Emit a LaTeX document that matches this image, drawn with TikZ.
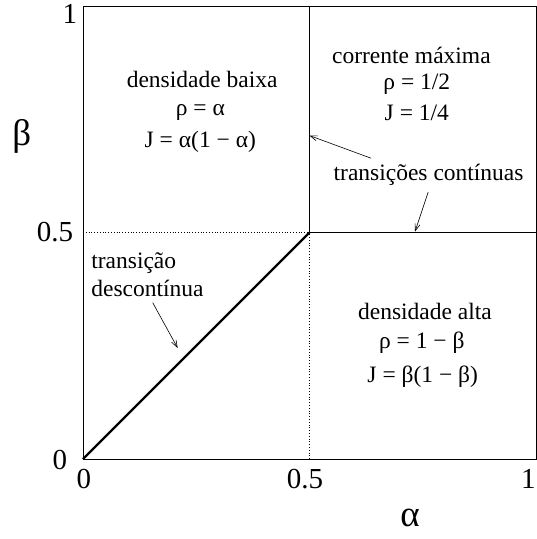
\documentclass[tikz,border=0pt]{standalone}
\usepackage{fontspec}
\setmainfont{Liberation Serif}
\usetikzlibrary{arrows.meta}
\begin{document}
\begin{tikzpicture}[x=453pt,y=453pt,
  region/.style={font=\fontsize{23.5}{28}\selectfont, inner sep=0pt, align=center},
  ticklbl/.style={font=\fontsize{29}{33}\selectfont, inner sep=0pt},
  axislbl/.style={font=\fontsize{37}{40}\selectfont, inner sep=0pt},
  thinline/.style={line width=0.8pt},
  dotline/.style={line width=0.8pt, dotted},
  pointer/.style={line width=0.6pt, -{Straight Barb[length=7pt,width=5pt]}}
]
\useasboundingbox (-0.1832,-0.1766) rectangle (1.0022,1.0133);
% frame
\coordinate (O) at (0,0);
\coordinate (M) at (0.5,0.5);
\coordinate (Mt) at (0.5,1);
\coordinate (Mr) at (1,0.5);
\coordinate (Ml) at (0,0.5);
\coordinate (Mb) at (0.5,0);
\draw[thinline] (0,0) rectangle (1,1);
\draw[thinline] (M) -- (Mt);
\draw[thinline] (M) -- (Mr);
\draw[dotline] (Ml) -- (M);
\draw[dotline] (Mb) -- (M);
\draw[line width=2.4pt] (O) -- (M);
% ticks
\node[ticklbl] (y1) at (-0.029,0.982) {1};
\node[ticklbl] (y05) at (-0.062,0.501) {0.5};
\node[ticklbl] (y0) at (-0.051,-0.002) {0};
\node[ticklbl] (x0) at (0.002,-0.045) {0};
\node[ticklbl] (x05) at (0.490,-0.045) {0.5};
\node[ticklbl] (x1) at (0.983,-0.045) {1};
\node[axislbl] (beta) at (-0.135,0.712) {β};
\node[axislbl] (alpha) at (0.722,-0.130) {α};
% regions
\node[region] (lowa) at (0.263,0.837) {densidade baixa};
\node[region] (lowb) at (0.259,0.766) {ρ = α};
\node[region] (lowc) at (0.259,0.701) {J = α(1 − α)};
\node[region] (maxa) at (0.725,0.892) {corrente máxima};
\node[region] (maxb) at (0.737,0.828) {ρ = 1/2};
\node[region] (maxc) at (0.737,0.765) {J = 1/4};
\node[region] (higha) at (0.755,0.326) {densidade alta};
\node[region] (highb) at (0.748,0.257) {ρ = 1 − β};
\node[region] (highc) at (0.750,0.182) {J = β(1 − β)};
% transitions
\node[region] (cont) at (0.763,0.627) {transições contínuas};
\node[region, align=left, anchor=west] (disc) at (0.018,0.406) {transição\\descontínua};
\coordinate (cv) at (0.5,0.714);
\coordinate (ch) at (0.733,0.502);
\coordinate (dd) at (0.209,0.245);
\draw[pointer] (0.636,0.664) -- (cv);
\draw[pointer] (0.762,0.589) -- (ch);
\draw[pointer] (0.154,0.345) -- (dd);
\end{tikzpicture}
\end{document}
